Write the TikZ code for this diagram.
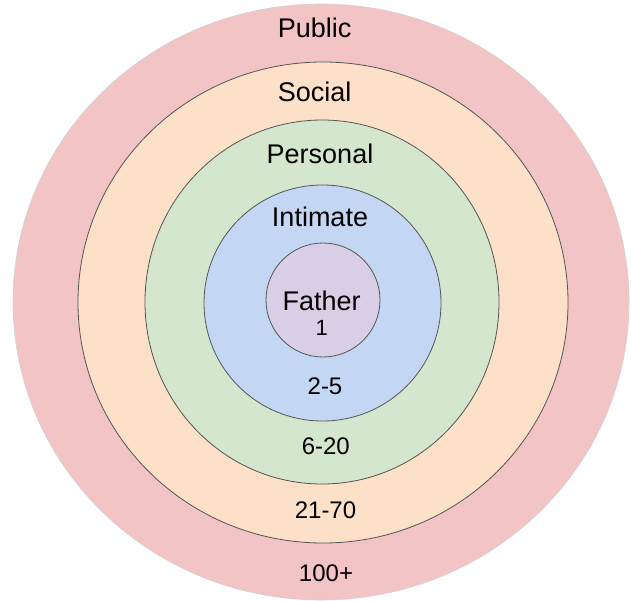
\documentclass[tikz,border=0pt]{standalone}
\usepackage{fontspec}
\setmainfont{Liberation Sans}
\usepackage{xcolor}
\usepackage{tikz}
\definecolor{publicred}{HTML}{F2C4C5}
\definecolor{socialpeach}{HTML}{FCE0C7}
\definecolor{personalgreen}{HTML}{D5E6CE}
\definecolor{intimateblue}{HTML}{C3D7F4}
\definecolor{fatherpurple}{HTML}{D8CFE6}
\definecolor{ringline}{HTML}{555555}

\begin{document}
\begin{tikzpicture}[x=1pt,y=-1pt,
	ring/.style={draw=ringline,line width=0.8pt},
	zonename/.style={anchor=base,inner sep=0pt,font=\fontsize{27}{30}\selectfont},
	zonecount/.style={anchor=base,inner sep=0pt,font=\fontsize{24}{27}\selectfont}]
	\useasboundingbox (0,0) rectangle (631,600);
	\fill[publicred,draw=gray!35,line width=0.6pt] (321,302) ellipse (308 and 298);
	\draw[ring,fill=socialpeach] (323,302.5) ellipse (245 and 240.5);
	\draw[ring,fill=personalgreen] (322,302) ellipse (177 and 182);
	\draw[ring,fill=intimateblue] (322.5,303) ellipse (118.5 and 118);
	\draw[ring,fill=fatherpurple] (323,300) circle (57);
	% ring names
	\node[zonename] (public) at (314.7,37.7) {Public};
	\node[zonename] (social) at (314.7,101.7) {Social};
	\node[zonename] (personal) at (320,163.3) {Personal};
	\node[zonename] (intimate) at (320,226.7) {Intimate};
	\node[zonename] (father) at (321.7,310.7) {Father};
	% ring sizes
	\node[zonecount,font=\fontsize{22}{25}\selectfont] (fathercount) at (321.7,335.7) {1};
	\node[zonecount] (intimatecount) at (325,394) {2-5};
	\node[zonecount] (personalcount) at (325.8,454.3) {6-20};
	\node[zonecount] (socialcount) at (325.5,518.3) {21-70};
	\node[zonecount] (publiccount) at (326,581.7) {100+};
\end{tikzpicture}
\end{document}
